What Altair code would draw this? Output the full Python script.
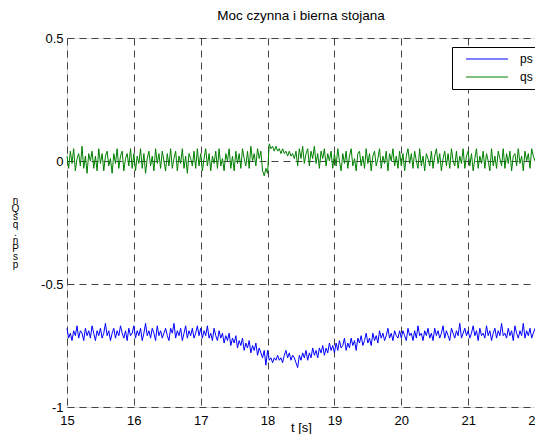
import altair as alt
import numpy as np
import pandas as pd

t_start = 15.0
t_step = 0.025

ps = [
    # 15.0 - 16.0
    -0.68,-0.72,-0.70,-0.73,-0.69,-0.71,-0.67,-0.72,-0.69,-0.70,-0.73,-0.68,-0.71,-0.69,-0.72,-0.67,-0.70,-0.73,-0.69,-0.71,
    -0.68,-0.72,-0.70,-0.66,-0.71,-0.69,-0.73,-0.70,-0.68,-0.72,-0.69,-0.71,-0.67,-0.70,-0.72,-0.69,-0.73,-0.68,-0.71,-0.70,
    # 16.0 - 17.0
    -0.67,-0.72,-0.69,-0.71,-0.68,-0.73,-0.70,-0.66,-0.71,-0.69,-0.72,-0.68,-0.70,-0.73,-0.67,-0.71,-0.69,-0.72,-0.70,-0.68,
    -0.71,-0.73,-0.68,-0.70,-0.66,-0.72,-0.69,-0.71,-0.68,-0.73,-0.70,-0.67,-0.72,-0.69,-0.71,-0.68,-0.72,-0.70,-0.67,-0.71,
    # 17.0 - 18.0
    -0.68,-0.72,-0.69,-0.71,-0.67,-0.72,-0.70,-0.73,-0.68,-0.71,-0.73,-0.69,-0.72,-0.70,-0.74,-0.71,-0.73,-0.70,-0.75,-0.72,
    -0.74,-0.71,-0.76,-0.73,-0.75,-0.72,-0.77,-0.74,-0.76,-0.73,-0.78,-0.75,-0.77,-0.74,-0.79,-0.76,-0.78,-0.80,-0.77,-0.83,
    # 18.0 - 19.0
    -0.77,-0.81,-0.80,-0.82,-0.80,-0.81,-0.79,-0.81,-0.80,-0.82,-0.79,-0.77,-0.80,-0.78,-0.81,-0.79,-0.80,-0.82,-0.84,-0.79,
    -0.81,-0.78,-0.80,-0.77,-0.81,-0.78,-0.80,-0.76,-0.79,-0.77,-0.80,-0.76,-0.78,-0.75,-0.79,-0.76,-0.78,-0.74,-0.77,-0.75,
    # 19.0 - 20.0
    -0.78,-0.74,-0.77,-0.73,-0.76,-0.75,-0.72,-0.77,-0.74,-0.76,-0.72,-0.75,-0.73,-0.77,-0.72,-0.74,-0.71,-0.75,-0.73,-0.70,
    -0.74,-0.72,-0.75,-0.70,-0.73,-0.71,-0.74,-0.69,-0.72,-0.70,-0.73,-0.71,-0.68,-0.72,-0.70,-0.73,-0.69,-0.71,-0.72,-0.69,
    # 20.0 - 21.0
    -0.72,-0.69,-0.71,-0.73,-0.68,-0.71,-0.70,-0.73,-0.69,-0.72,-0.67,-0.71,-0.70,-0.73,-0.69,-0.71,-0.68,-0.72,-0.70,-0.73,
    -0.68,-0.71,-0.69,-0.72,-0.70,-0.67,-0.72,-0.69,-0.71,-0.73,-0.68,-0.70,-0.72,-0.69,-0.71,-0.66,-0.72,-0.70,-0.68,-0.71,
    # 21.0 - 22.0
    -0.69,-0.72,-0.70,-0.67,-0.71,-0.69,-0.73,-0.68,-0.71,-0.70,-0.72,-0.67,-0.71,-0.69,-0.73,-0.70,-0.68,-0.72,-0.69,-0.71,
    -0.66,-0.71,-0.70,-0.72,-0.68,-0.71,-0.69,-0.73,-0.67,-0.70,-0.72,-0.69,-0.71,-0.66,-0.72,-0.69,-0.71,-0.68,-0.72,-0.70,
    # 22.0
    -0.68,
]

qs = [
    # 15.0 - 16.0
    0.02,-0.03,0.04,-0.01,0.05,-0.04,0.01,0.03,-0.02,0.06,-0.03,0.02,-0.05,0.03,0.00,0.04,-0.03,0.02,-0.04,0.05,
    -0.01,0.03,-0.04,0.02,0.04,-0.02,0.01,-0.05,0.03,-0.01,0.05,-0.03,0.02,0.04,-0.04,0.01,0.03,-0.02,0.05,-0.03,
    # 16.0 - 17.0
    0.03,-0.04,0.02,-0.01,0.05,-0.03,0.03,-0.05,0.01,0.04,-0.02,0.02,-0.04,0.05,-0.01,0.03,-0.03,0.04,0.00,-0.04,
    0.03,-0.02,0.05,-0.03,0.01,0.04,-0.04,0.02,-0.01,0.05,-0.03,0.02,-0.05,0.03,0.01,-0.02,0.04,-0.03,0.05,-0.02,
    # 17.0 - 18.0
    0.03,-0.04,0.01,0.05,-0.02,0.03,-0.04,0.02,-0.01,0.04,-0.03,0.05,-0.02,0.01,-0.04,0.03,0.00,0.05,-0.03,0.02,
    -0.04,0.04,-0.01,0.03,-0.03,0.05,0.01,-0.02,0.04,-0.03,0.06,0.00,0.03,-0.02,0.05,0.01,0.04,-0.04,-0.06,-0.03,
    # 18.0 - 19.0
    -0.05,0.07,0.05,0.06,0.04,0.06,0.04,0.05,0.03,0.05,0.03,0.04,0.02,0.04,0.02,0.03,0.01,0.04,-0.02,0.05,
    0.01,0.06,-0.01,0.03,0.05,-0.02,0.04,0.01,0.06,-0.01,0.03,-0.03,0.04,0.01,0.05,-0.02,0.03,0.00,0.04,-0.03,
    # 19.0 - 20.0
    0.03,-0.02,0.05,0.00,-0.04,0.03,-0.01,0.04,-0.03,0.02,0.05,-0.02,0.01,-0.04,0.03,0.04,-0.02,0.02,-0.03,0.05,
    -0.01,0.03,-0.04,0.02,0.04,-0.02,0.01,0.05,-0.03,0.02,-0.01,0.04,-0.04,0.03,0.00,0.05,-0.02,0.02,-0.03,0.04,
    # 20.0 - 21.0
    -0.02,0.03,-0.04,0.02,0.05,-0.01,0.03,-0.03,0.04,0.00,-0.03,0.05,-0.02,0.02,-0.04,0.03,0.01,-0.02,0.04,-0.03,
    0.02,0.05,-0.01,0.03,-0.04,0.01,0.04,-0.02,0.03,-0.03,0.05,0.00,-0.02,0.04,-0.03,0.02,-0.01,0.05,-0.03,0.02,
    # 21.0 - 22.0
    0.04,-0.02,0.03,-0.04,0.01,0.05,-0.03,0.02,-0.01,0.04,-0.03,0.03,0.00,-0.04,0.05,-0.02,0.02,-0.03,0.04,0.01,
    -0.02,0.05,-0.03,0.03,-0.01,0.04,-0.04,0.02,0.03,-0.02,0.05,-0.01,0.02,-0.04,0.04,0.00,0.03,-0.03,0.05,0.02,
    # 22.0
    0.00,
]

series_names = ["ps", "qs"]
series_colors = ["#0000ff", "#008000"]
x_ticks = [15, 16, 17, 18, 19, 20, 21, 22]
y_ticks = [-1, -0.5, 0, 0.5]
y_title_lines = ["n", "Q", "s", "q", "", ".", "n", "P", "s", "p"]

df = pd.concat([
    pd.DataFrame({"t": np.round(t_start + t_step * np.arange(len(ps)), 3), "v": ps, "s": "ps"}),
    pd.DataFrame({"t": np.round(t_start + t_step * np.arange(len(qs)), 3), "v": qs, "s": "qs"}),
])

FONT = "Liberation Sans"
GRID = "#444444"

chart = alt.Chart(df).mark_line(strokeWidth=1).encode(
    x=alt.X("t:Q", scale=alt.Scale(domain=[15, 22], nice=False),
            axis=alt.Axis(values=x_ticks, title="t [s]", grid=True, ticks=False, domain=False,
                          labelPadding=7, labelFontSize=13, labelFont=FONT, labelColor="black",
                          labelFlush=False,
                          titleFontSize=13, titleFont=FONT, titleFontWeight="normal", titleColor="black",
                          titleBaseline="top", titleY=14,
                          gridDash=[7, 5], gridColor=GRID, gridOpacity=1)),
    y=alt.Y("v:Q", scale=alt.Scale(domain=[-1, 0.5], nice=False),
            axis=alt.Axis(values=y_ticks, labelExpr="'' + datum.value",
                          title=y_title_lines,
                          titleAngle=0, titleX=-52, titleY=157, titleAlign="center", titleBaseline="top",
                          titleLineHeight=8, titleFontSize=10, titleFont=FONT, titleFontWeight="normal",
                          titleColor="black",
                          grid=True, ticks=False, domain=False, labelPadding=4,
                          labelFontSize=13, labelFont=FONT, labelColor="black", labelFlush=False,
                          gridDash=[7, 5], gridColor=GRID, gridOpacity=1)),
    color=alt.Color("s:N", scale=alt.Scale(domain=series_names, range=series_colors),
                    legend=alt.Legend(title=None, orient="none", legendX=385, legendY=9,
                                      symbolType="M2,0L44,0", symbolSize=4, symbolStrokeWidth=1,
                                      strokeColor="black", fillColor="white", padding=6,
                                      labelFontSize=12, labelFont=FONT, labelColor="black",
                                      labelOffset=50, rowPadding=6)),
).properties(
    width=468, height=369,
    title=alt.TitleParams("Moc czynna i bierna stojana", fontSize=13.5, font=FONT,
                          fontWeight="normal", color="black", offset=10),
    autosize=alt.AutoSizeParams(type="none"),
    padding={"left": 59, "top": 30, "right": 0, "bottom": 27},
).configure_view(stroke="black", strokeWidth=1).configure(background="white")

chart.save("out.html", embed_options={"renderer": "svg", "actions": False})
